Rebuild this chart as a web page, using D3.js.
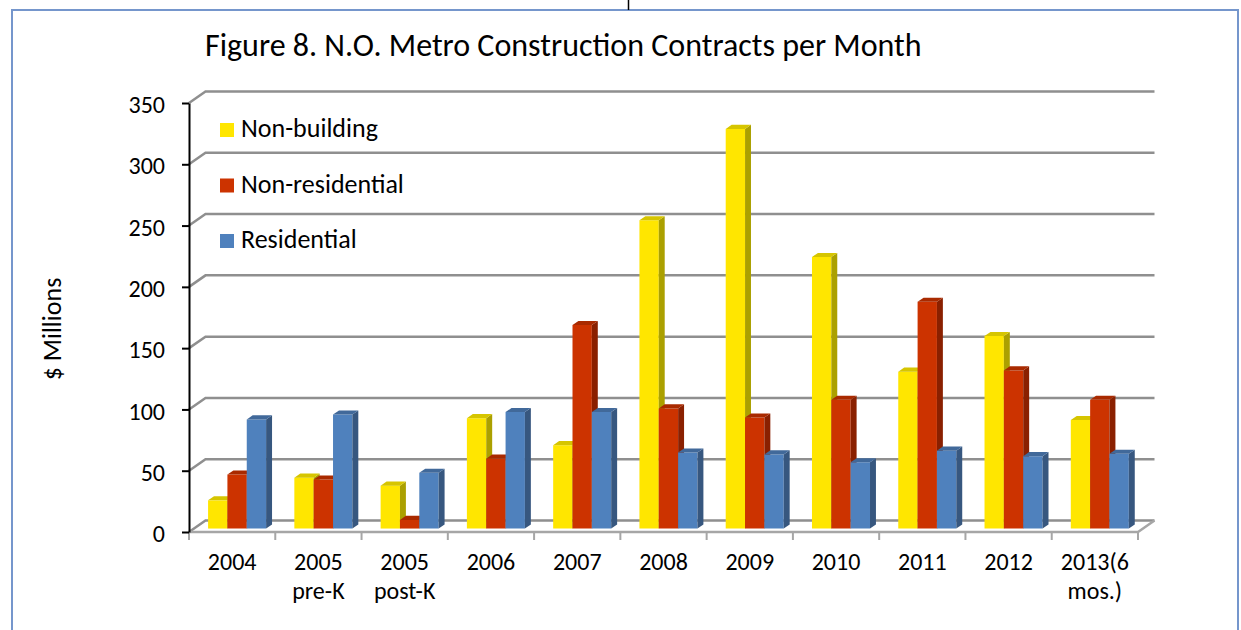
<!DOCTYPE html>
<html>
<head>
<meta charset="utf-8">
<script src="https://cdn.jsdelivr.net/npm/d3@7/dist/d3.min.js"></script>
<style>
  html, body { margin: 0; padding: 0; background: #fff; }
  svg { display: block; font-family: Carlito, Calibri, Lato, "Open Sans", sans-serif; }
</style>
</head>
<body>
<div id="chart"></div>
<script>
// chart data
var categories = ['2004', '2005 pre-K', '2005 post-K', '2006', '2007', '2008', '2009', '2010', '2011', '2012', '2013(6 mos.)'];
var categoryLines = [['2004'], ['2005', 'pre-K'], ['2005', 'post-K'], ['2006'], ['2007'], ['2008'], ['2009'], ['2010'], ['2011'], ['2012'], ['2013(6', 'mos.)']];
var seriesNames = ['Non-building', 'Non-residential', 'Residential'];
var nonBuilding = [23, 41.5, 35, 90, 68, 251.5, 326, 221.5, 128, 157, 88.5];
var nonResidential = [44, 40, 7, 57, 166, 98, 90.5, 105, 185, 129, 105];
var residential = [89, 93, 45.5, 95, 95, 62, 60.5, 54, 63.5, 59, 61];
var yTicks = [0, 50, 100, 150, 200, 250, 300, 350];

var seriesValues = [nonBuilding, nonResidential, residential];
var colors = {
    front: ['#ffe600', '#cc3300', '#4f81bd'],
    side:  ['#aba000', '#8a2000', '#37577f'],
    top:   ['#d6c500', '#a92a00', '#41699a']
};

var width = 1241, height = 630;

// oblique depth of the plot box
var DX = 16.5, DY = 11.5;
var Z0 = 0.3, Z1 = 0.66;

function proj(x, y, z) {
    return [x + z * DX, y - z * DY];
}

var x = d3.scaleBand().domain(categories).range([189, 1138]).paddingInner(0).paddingOuter(0);
var xs = d3.scaleBand().domain(seriesNames).range([0, x.bandwidth()]).paddingInner(0).paddingOuter(0.73);
var y = d3.scaleLinear().domain([0, 350]).range([532, 103]);

var svg = d3.select('#chart').append('svg')
    .attr('width', width)
    .attr('height', height);

// outer frame
svg.append('rect')
    .attr('x', 12).attr('y', 10)
    .attr('width', 1226).attr('height', 640)
    .attr('fill', 'none')
    .attr('stroke', '#7596cc')
    .attr('stroke-width', 2);

svg.append('line')
    .attr('x1', 628.5).attr('x2', 628.5)
    .attr('y1', 0).attr('y2', 10)
    .attr('stroke', '#000')
    .attr('stroke-width', 1.5);

// title
svg.append('text')
    .attr('x', 205)
    .attr('y', 56)
    .attr('font-size', 32)
    .attr('fill', '#000')
    .text('Figure 8. N.O. Metro Construction Contracts per Month');

// back wall + side wall gridlines
var xL = x.range()[0], xR = x.range()[1];
var grid = svg.append('g').attr('class', 'grid');

grid.selectAll('path.gl')
    .data(yTicks)
    .enter().append('path')
    .attr('class', 'gl')
    .attr('fill', 'none')
    .attr('stroke', '#8f8f8f')
    .attr('stroke-width', 2.5)
    .attr('d', function(t) {
        var a = [xL, y(t)], b = proj(xL, y(t), 1), c = proj(xR, y(t), 1);
        return 'M' + a + 'L' + b + 'L' + c;
    });

// floor front and right edges
var f0 = [xL, y(0)], f1 = [xR, y(0)], f2 = proj(xR, y(0), 1);
grid.append('path')
    .attr('fill', 'none')
    .attr('stroke', '#a6a6a6')
    .attr('stroke-width', 2.5)
    .attr('d', 'M' + f0 + 'L' + f1 + 'L' + f2);

// category separator ticks
grid.selectAll('line.ct')
    .data(categories.concat(['end']))
    .enter().append('line')
    .attr('class', 'ct')
    .attr('x1', function(d) { return d === 'end' ? xR : x(d); })
    .attr('x2', function(d) { return d === 'end' ? xR : x(d); })
    .attr('y1', y(0))
    .attr('y2', y(0) + 8)
    .attr('stroke', '#a6a6a6')
    .attr('stroke-width', 2);

// bars, drawn left to right so the next front face hides the side face
var bars = [];
categories.forEach(function(c, i) {
    seriesNames.forEach(function(s, j) {
        bars.push({ cat: c, series: s, idx: j, value: seriesValues[j][i] });
    });
});

function poly(pts) {
    return pts.map(function(p) { return p.join(','); }).join(' ');
}

var barG = svg.append('g').attr('class', 'bars')
    .selectAll('g')
    .data(bars)
    .enter().append('g');

barG.append('polygon')
    .attr('fill', function(d) { return colors.front[d.idx]; })
    .attr('points', function(d) {
        var x0 = x(d.cat) + xs(d.series), x1 = x0 + xs.bandwidth();
        var yt = y(d.value), yb = y(0);
        return poly([proj(x0, yt, Z0), proj(x1, yt, Z0), proj(x1, yb, Z0), proj(x0, yb, Z0)]);
    });

barG.append('polygon')
    .attr('fill', function(d) { return colors.side[d.idx]; })
    .attr('points', function(d) {
        var x1 = x(d.cat) + xs(d.series) + xs.bandwidth();
        var yt = y(d.value), yb = y(0);
        return poly([proj(x1, yt, Z0), proj(x1, yt, Z1), proj(x1, yb, Z1), proj(x1, yb, Z0)]);
    });

barG.append('polygon')
    .attr('fill', function(d) { return colors.top[d.idx]; })
    .attr('points', function(d) {
        var x0 = x(d.cat) + xs(d.series), x1 = x0 + xs.bandwidth();
        var yt = y(d.value);
        return poly([proj(x0, yt, Z0), proj(x1, yt, Z0), proj(x1, yt, Z1), proj(x0, yt, Z1)]);
    });

// y axis
var yAxis = d3.axisLeft(y)
    .tickValues(yTicks)
    .tickSizeInner(7)
    .tickSizeOuter(0)
    .tickPadding(17);

var yAxisG = svg.append('g')
    .attr('transform', 'translate(' + xL + ',0)')
    .call(yAxis)
    .attr('font-family', null)
    .attr('font-size', 24);

yAxisG.select('.domain').attr('stroke', '#000').attr('stroke-width', 2);
yAxisG.selectAll('.tick line').attr('stroke', '#000').attr('stroke-width', 2);
yAxisG.selectAll('.tick text')
    .attr('fill', '#000')
    .attr('dy', '0.4em');

// y axis title
svg.append('text')
    .attr('transform', 'translate(61,329) rotate(-90)')
    .attr('text-anchor', 'middle')
    .attr('font-size', 26)
    .text('$ Millions');

// category labels
var catLabels = svg.append('g').selectAll('text')
    .data(categories)
    .enter().append('text')
    .attr('text-anchor', 'middle')
    .attr('font-size', 24)
    .attr('fill', '#000');

catLabels.selectAll('tspan')
    .data(function(d, i) { return categoryLines[i].map(function(l) { return { cat: d, line: l }; }); })
    .enter().append('tspan')
    .attr('x', function(d) { return x(d.cat) + x.bandwidth() / 2; })
    .attr('y', function(d, k) { return 570 + k * 29; })
    .text(function(d) { return d.line; });

// legend
var legend = svg.append('g').selectAll('g')
    .data(seriesNames)
    .enter().append('g')
    .attr('transform', function(d, i) { return 'translate(220,' + (137 + i * 55.5) + ')'; });

legend.append('rect')
    .attr('x', 0).attr('y', -14)
    .attr('width', 14).attr('height', 14)
    .attr('fill', function(d, i) { return colors.front[i]; });

legend.append('text')
    .attr('x', 21)
    .attr('y', 0)
    .attr('font-size', 26)
    .text(function(d) { return d; });
</script>
</body>
</html>
